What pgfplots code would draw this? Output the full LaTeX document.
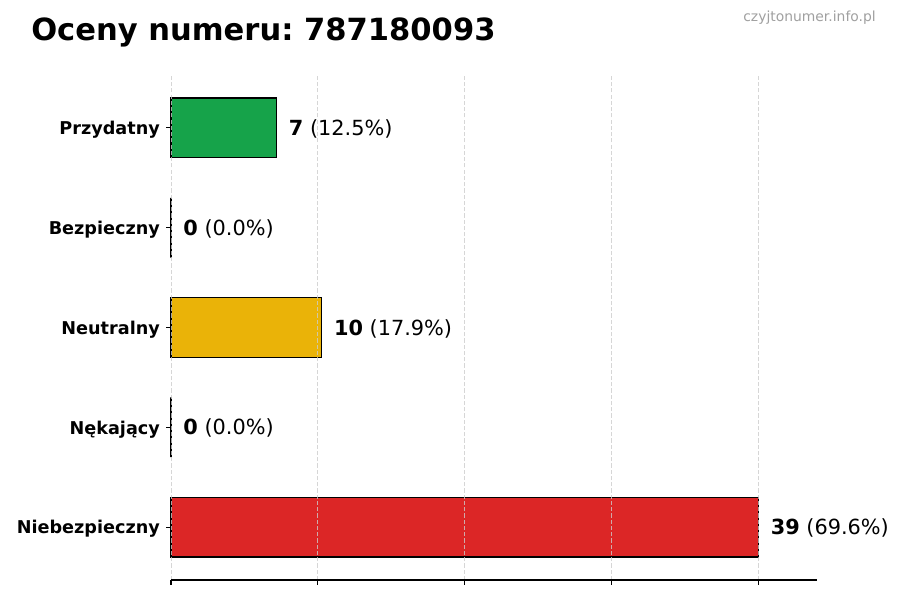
\documentclass[border=0pt]{standalone}
\usepackage{pgfplots}
\pgfplotsset{compat=1.18}
\usepackage{fontspec}
\setmainfont{DejaVu Sans}
\frenchspacing
\definecolor{barred}{HTML}{DC2626}
\definecolor{baryellow}{HTML}{EAB308}
\definecolor{bargreen}{HTML}{16A34A}
\definecolor{gridgray}{HTML}{CCCCCC}
\definecolor{wmgray}{HTML}{A0A0A0}
\begin{document}
\begin{tikzpicture}
  % 1 px of the reference = 0.72pt
  \useasboundingbox (-123.12pt,-14.4pt) rectangle (524.88pt,417.6pt);
  \begin{axis}[
    at={(0,0)}, anchor=south west,
    scale only axis,
    width=465.12pt, height=363.6pt,
    xbar, bar width=0.6, bar shift=0pt,
    xmin=0, xmax=42.9,
    ymin=-0.53, ymax=4.53,
    xtick={0,9.75,19.5,29.25,39},
    xticklabels={},
    ytick={0,1,2,3,4},
    yticklabels={Niebezpieczny,Nękający,Neutralny,Bezpieczny,Przydatny},
    yticklabel style={font=\fontsize{12.7}{15}\selectfont\bfseries, inner xsep=4.3pt, yshift=-1.4pt},
    axis x line*=bottom,
    axis y line*=left,
    x axis line style={-, line width=0.8pt},
    y axis line style={draw=none},
    tick align=outside,
    major tick length=3.5pt,
    every tick/.style={black, line width=0.8pt},
    xmajorgrids=true,
    grid style={gridgray, opacity=0.8, line width=0.6pt, dash pattern=on 3pt off 1.5pt},
    axis on top,
    point meta=explicit symbolic,
    nodes near coords,
    every node near coord/.append style={anchor=west, inner sep=0pt, xshift=8.6pt, yshift=-0.7pt,
      font=\fontsize{15}{18}\selectfont, text=black},
    clip=false,
  ]
    \addplot[draw=black, line width=0.8pt, fill=barred] coordinates {(39,0) [\textbf{39} (69.6\%)]};
    \addplot[draw=black, line width=0.8pt, fill=gray] coordinates {(0,1) [\textbf{0} (0.0\%)]};
    \addplot[draw=black, line width=0.8pt, fill=baryellow] coordinates {(10,2) [\textbf{10} (17.9\%)]};
    \addplot[draw=black, line width=0.8pt, fill=gray] coordinates {(0,3) [\textbf{0} (0.0\%)]};
    \addplot[draw=black, line width=0.8pt, fill=bargreen] coordinates {(7,4) [\textbf{7} (12.5\%)]};
  \end{axis}
  \node[anchor=base west, inner sep=0pt, font=\fontsize{22}{26}\selectfont\bfseries]
    at (-100.8pt,388.08pt) {Oceny numeru: 787180093};
  \node[anchor=base east, inner sep=0pt, font=\fontsize{10}{12}\selectfont, text=wmgray]
    at (507.6pt,401.76pt) {czyjtonumer.info.pl};
\end{tikzpicture}
\end{document}
